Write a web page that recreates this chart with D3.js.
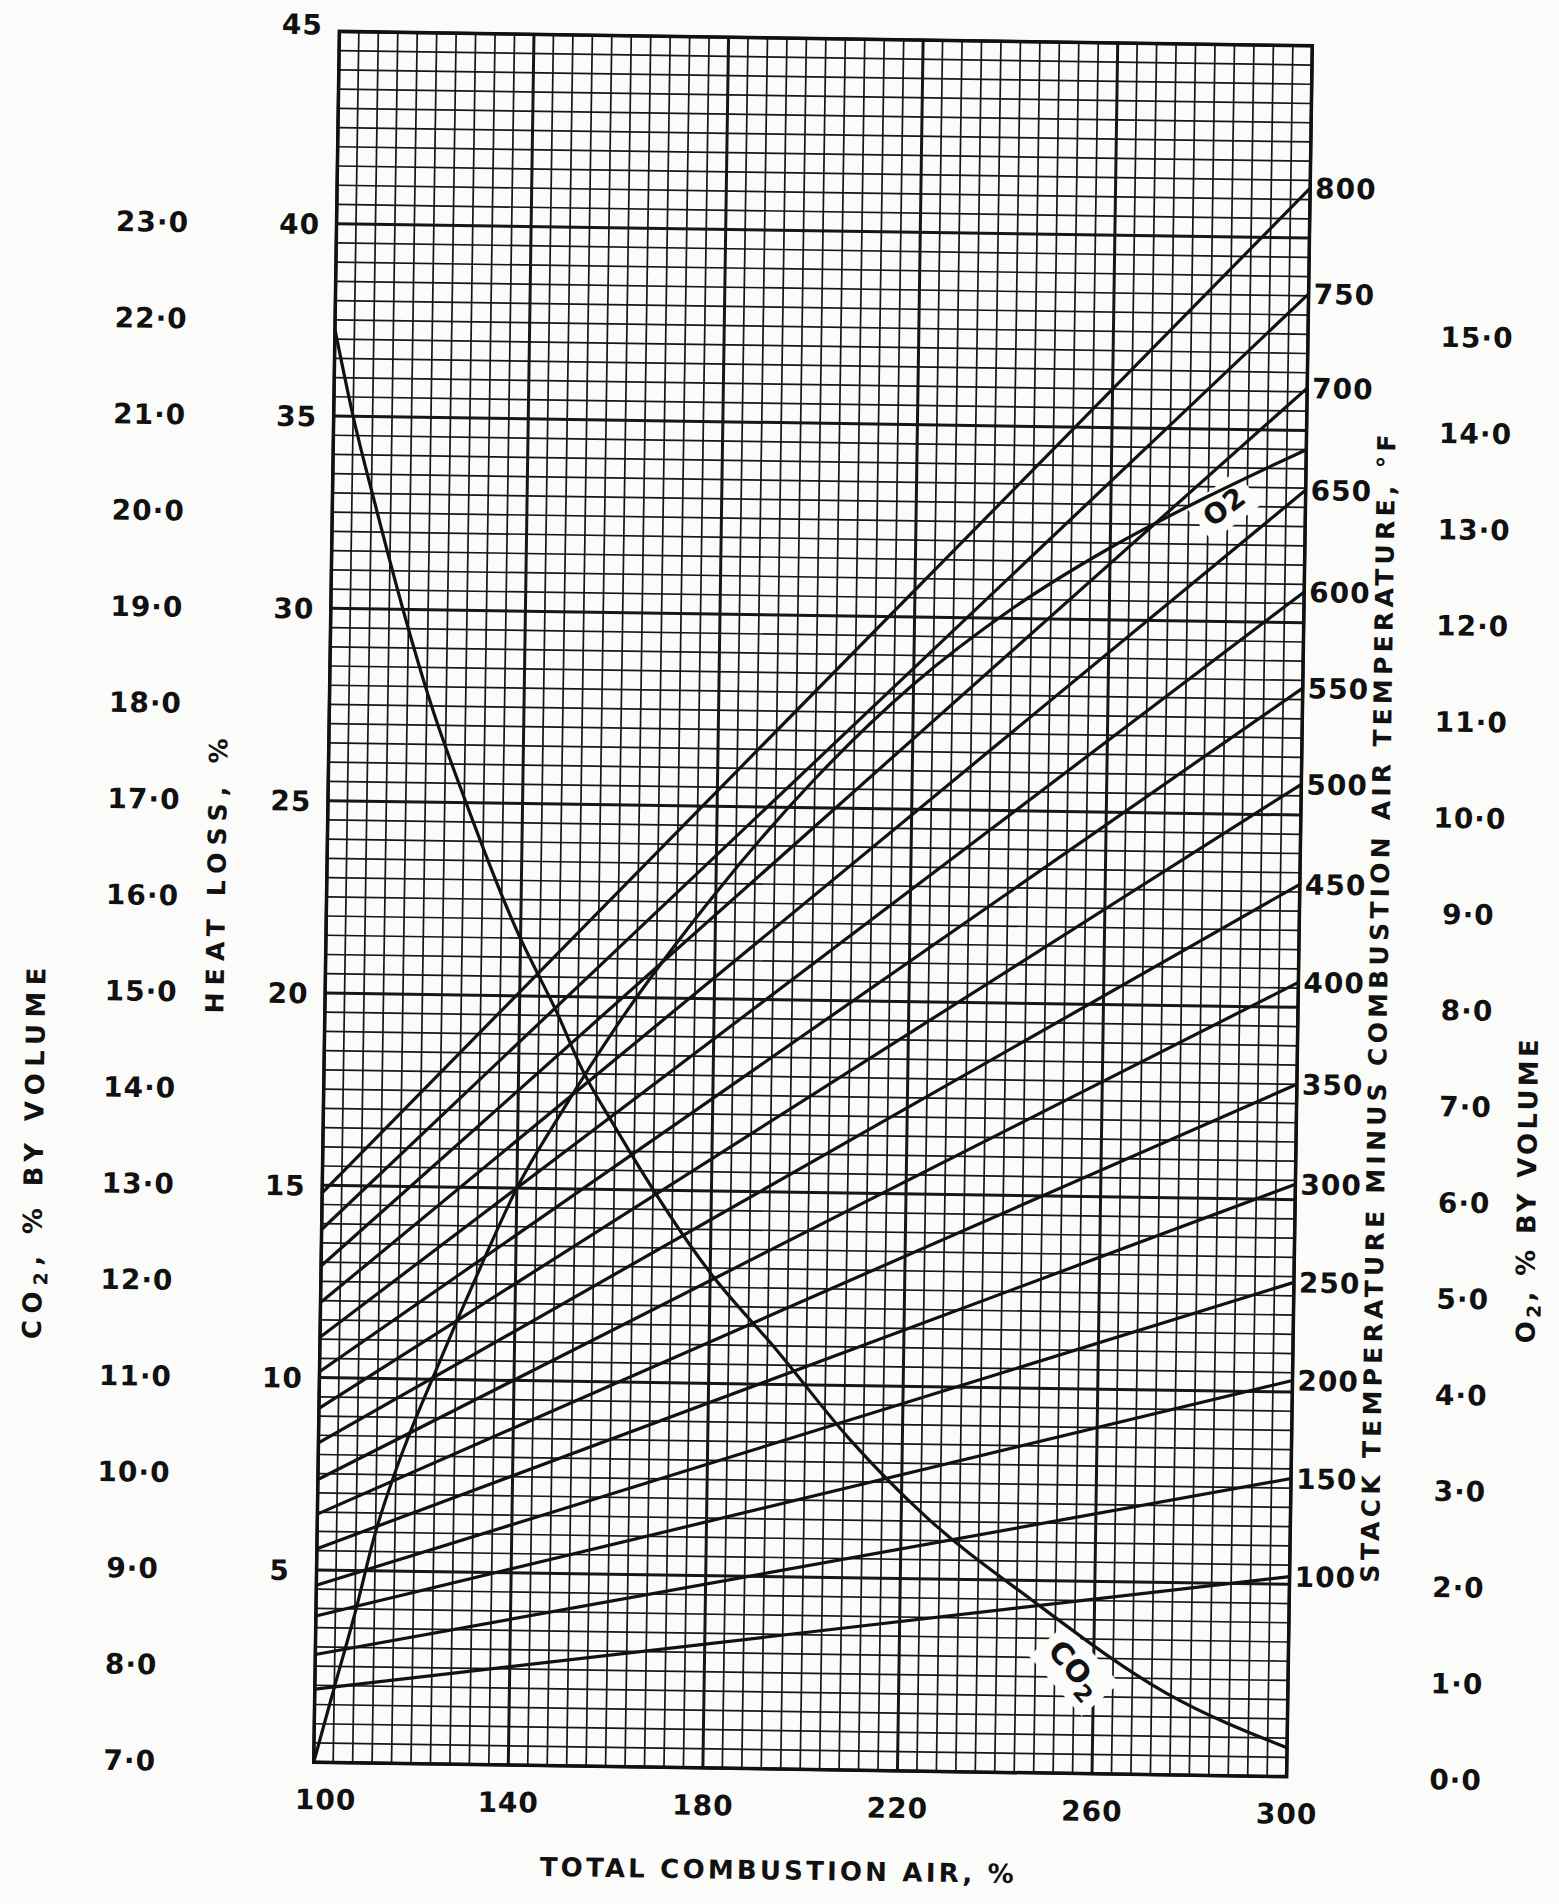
<!DOCTYPE html>
<html>
<head>
<meta charset="utf-8">
<script src="https://cdn.jsdelivr.net/npm/d3@7"></script>
<style>
  html, body { margin: 0; padding: 0; background: #fbfbfa; }
  svg text { font-family: "DejaVu Sans", sans-serif; font-weight: bold; fill: #111; }
</style>
</head>
<body>
<div id="chart"></div>
<script>
// stack temperature minus combustion air temperature, deg F (one line each)
const stackTemps = [100, 150, 200, 250, 300, 350, 400, 450, 500, 550, 600, 650, 700, 750, 800];
// heat loss % read where each line meets 100 % and 300 % total air
const lossAt100 = [1.9, 2.8, 3.8, 4.6, 5.55, 6.45, 7.35, 8.3, 9.2, 10.15, 11.05, 11.95, 12.9, 13.85, 14.8];
const lossAt300 = [5.2, 7.75, 10.3, 12.85, 15.4, 18.0, 20.65, 23.2, 25.8, 28.3, 30.8, 33.45, 36.1, 38.55, 41.3];

// CO2 % by volume against total combustion air %
const co2Air = [100, 104, 109, 116, 121, 128, 139, 148, 153, 160, 180, 194, 209, 225, 247, 275, 300];
const co2Values = [21.9, 21.0, 20.05, 18.8, 18.0, 17.05, 15.7, 14.8, 14.25, 13.65, 12.15, 11.35, 10.45, 9.65, 8.8, 7.85, 7.3];

// O2 % by volume against total combustion air %
const o2Air = [100, 104, 108, 112, 116, 120, 124, 128, 133, 140, 149, 160, 180, 200, 220, 240, 260, 280, 300];
const o2Values = [0, 0.78, 1.55, 2.4, 3.05, 3.6, 4.1, 4.6, 5.2, 6.0, 6.8, 7.7, 9.1, 10.3, 11.3, 12.1, 12.75, 13.3, 13.8];

// tick labels
const airTicks = [100, 140, 180, 220, 260, 300];
const lossTicks = [5, 10, 15, 20, 25, 30, 35, 40, 45];
const co2Ticks = [7, 8, 9, 10, 11, 12, 13, 14, 15, 16, 17, 18, 19, 20, 21, 22, 23];
const o2Ticks = [0, 1, 2, 3, 4, 5, 6, 7, 8, 9, 10, 11, 12, 13, 14, 15];

const width = 1559;
const height = 1904;
const plot = {left: 326.5, right: 1299.5, top: 38.5, bottom: 1769.5};
const ink = '#111';
const paper = '#fbfbfa';
const numFont = 28;

const svg = d3.select('#chart').append('svg')
  .attr('width', width)
  .attr('height', height);

svg.append('rect')
  .attr('width', width)
  .attr('height', height)
  .attr('fill', paper);

// the scanned sheet sits slightly askew
const root = svg.append('g')
  .attr('transform', 'rotate(0.85, 813, 904)');

let x = d3.scaleLinear().domain([100, 300]).range([plot.left, plot.right]);
let y = d3.scaleLinear().domain([0, 45]).range([plot.bottom, plot.top]);
let yCo2 = d3.scaleLinear().domain([7, 25]).range(y.range());
let yO2 = d3.scaleLinear().domain([0, 18]).range(y.range());

// graph paper
let grid = root.append('g');
let rows = d3.range(0, 91).map(i => i / 2);
let cols = d3.range(0, 51).map(i => 100 + i * 4);

grid.selectAll('line.row')
  .data(rows)
  .join('line')
  .attr('x1', x(100)).attr('x2', x(300))
  .attr('y1', d => y(d)).attr('y2', d => y(d))
  .attr('stroke', '#161616')
  .attr('stroke-width', d => d % 5 === 0 ? 3 : 1.7);

grid.selectAll('line.col')
  .data(cols)
  .join('line')
  .attr('y1', y(0)).attr('y2', y(45))
  .attr('x1', d => x(d)).attr('x2', d => x(d))
  .attr('stroke', '#161616')
  .attr('stroke-width', d => (d - 100) % 40 === 0 ? 3 : 1.7);

grid.append('rect')
  .attr('x', x(100)).attr('y', y(45))
  .attr('width', x(300) - x(100))
  .attr('height', y(0) - y(45))
  .attr('fill', 'none')
  .attr('stroke', ink)
  .attr('stroke-width', 3.5);

// white patches where the curve names are lettered
let co2Label = {air: 256, loss: 2.7, angle: 48};
let o2Label = {air: 283.3, loss: 33.0, angle: -38};

[[co2Label, 80, 50], [o2Label, 62, 42]].forEach(([lab, w, h]) => {
  root.append('rect')
    .attr('x', -w / 2).attr('y', -h / 2)
    .attr('width', w).attr('height', h)
    .attr('fill', paper)
    .attr('transform', `translate(${x(lab.air)},${y(lab.loss)}) rotate(${lab.angle})`);
});

// heat loss lines
let lossLines = stackTemps.map((t, i) => ({
  temp: t,
  points: [[100, lossAt100[i]], [300, lossAt300[i]]]
}));

let line = d3.line().x(d => x(d[0])).y(d => y(d[1]));

root.append('g')
  .selectAll('path')
  .data(lossLines)
  .join('path')
  .attr('d', d => line(d.points))
  .attr('fill', 'none')
  .attr('stroke', ink)
  .attr('stroke-width', 3.2);

// CO2 and O2 curves
let co2Line = d3.line()
  .x(d => x(d[0])).y(d => yCo2(d[1]))
  .curve(d3.curveMonotoneX);
let o2Line = d3.line()
  .x(d => x(d[0])).y(d => yO2(d[1]))
  .curve(d3.curveMonotoneX);

root.append('path')
  .attr('d', co2Line(d3.zip(co2Air, co2Values)))
  .attr('fill', 'none')
  .attr('stroke', ink)
  .attr('stroke-width', 3.2);

root.append('path')
  .attr('d', o2Line(d3.zip(o2Air, o2Values)))
  .attr('fill', 'none')
  .attr('stroke', ink)
  .attr('stroke-width', 3.2);

// curve names
let co2Text = root.append('text')
  .attr('transform', `translate(${x(co2Label.air)},${y(co2Label.loss)}) rotate(${co2Label.angle})`)
  .attr('text-anchor', 'middle')
  .attr('dy', '0.3em')
  .attr('font-size', 30);
co2Text.append('tspan').text('CO');
co2Text.append('tspan').attr('font-size', 23).attr('dy', '0.35em').text('2');

root.append('text')
  .attr('transform', `translate(${x(o2Label.air)},${y(o2Label.loss)}) rotate(${o2Label.angle})`)
  .attr('text-anchor', 'middle')
  .attr('dy', '0.36em')
  .attr('font-size', numFont)
  .attr('letter-spacing', 1)
  .text('O2');

// axes
let dotted = d => d.toFixed(1).replace('.', '\u00b7');

function styleAxis(g) {
  g.select('.domain').remove();
  g.attr('font-family', '"DejaVu Sans", sans-serif')
    .attr('font-size', numFont)
    .attr('letter-spacing', 1)
    .attr('color', ink);
  g.selectAll('text')
    .attr('text-anchor', 'middle')
    .attr('x', 0)
    .attr('dy', '0.36em');
}

root.append('g')
  .attr('transform', `translate(${x(100) - 37},0)`)
  .call(d3.axisLeft(y).tickValues(lossTicks).tickSize(0))
  .call(styleAxis)
  .call(g => g.selectAll('text').attr('dy', d => d === 45 ? '0.1em' : '0.36em'));

root.append('g')
  .attr('transform', `translate(${x(100) - 184},0)`)
  .call(d3.axisLeft(yCo2).tickValues(co2Ticks).tickSize(0).tickFormat(dotted))
  .call(styleAxis);

root.append('g')
  .attr('transform', `translate(${x(300) + 169},0)`)
  .call(d3.axisRight(yO2).tickValues(o2Ticks).tickSize(0).tickFormat(dotted))
  .call(styleAxis);

root.append('g')
  .attr('transform', `translate(0,${y(0) + 37})`)
  .call(d3.axisBottom(x).tickValues(airTicks).tickSize(0))
  .call(styleAxis)
  .call(g => g.selectAll('text').attr('y', 0).attr('x', d => d === 100 ? 12 : 0));

// temperature labels at the line ends
root.append('g')
  .selectAll('text')
  .data(lossLines)
  .join('text')
  .attr('x', x(300) + 5)
  .attr('y', d => y(d.points[1][1]))
  .attr('dy', '0.36em')
  .attr('font-size', numFont)
  .attr('letter-spacing', 1)
  .text(d => d.temp);

// axis titles
root.append('text')
  .attr('x', x(195.5)).attr('y', y(0) + 101)
  .attr('text-anchor', 'middle')
  .attr('dy', '0.36em')
  .attr('font-size', 26)
  .attr('textLength', 474)
  .attr('lengthAdjust', 'spacing')
  .text('TOTAL COMBUSTION AIR, %');

root.append('text')
  .attr('transform', `translate(216,${y(23)}) rotate(-90)`)
  .attr('text-anchor', 'middle')
  .attr('dy', '0.36em')
  .attr('font-size', 25)
  .attr('textLength', 275)
  .attr('lengthAdjust', 'spacing')
  .text('HEAT LOSS, %');

let co2Title = root.append('text')
  .attr('transform', `translate(38,${y(15.8)}) rotate(-90)`)
  .attr('text-anchor', 'middle')
  .attr('dy', '0.36em')
  .attr('font-size', 26)
  .attr('letter-spacing', 6.3);
co2Title.append('tspan').text('CO');
co2Title.append('tspan').attr('font-size', 19).attr('dy', '0.3em').text('2');
co2Title.append('tspan').attr('dy', '-0.25em').text(', % BY VOLUME');

root.append('text')
  .attr('transform', `translate(${x(300) + 80},${y(20)}) rotate(-90)`)
  .attr('text-anchor', 'middle')
  .attr('dy', '0.36em')
  .attr('font-size', 25)
  .attr('textLength', 1148)
  .attr('lengthAdjust', 'spacing')
  .text('STACK TEMPERATURE MINUS COMBUSTION AIR TEMPERATURE, \u00b0F');

let o2Title = root.append('text')
  .attr('transform', `translate(${x(300) + 232},${y(15.35)}) rotate(-90)`)
  .attr('text-anchor', 'middle')
  .attr('dy', '0.36em')
  .attr('font-size', 26)
  .attr('letter-spacing', 3.3);
o2Title.append('tspan').text('O');
o2Title.append('tspan').attr('font-size', 19).attr('dy', '0.3em').text('2');
o2Title.append('tspan').attr('dy', '-0.25em').text(', % BY VOLUME');
</script>
</body>
</html>
